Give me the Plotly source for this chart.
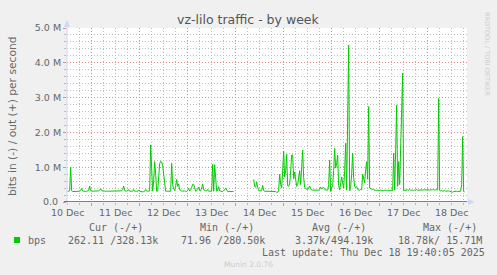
import pandas as pd
import plotly.graph_objects as go

# ---------------- data ----------------
# outbound traffic (+), Mbit/s, 30-minute samples starting 2025-12-10 12:00
out_mbps = [
    0.30, 0.30, 0.32, 1.00, 0.32, 0.30, 0.30, 0.31, 0.30, 0.30,
    0.30, 0.31, 0.31, 0.33, 0.39, 0.32, 0.31, 0.31, 0.30, 0.31,
    0.31, 0.33, 0.46, 0.33, 0.31, 0.31, 0.31, 0.30, 0.31, 0.31,
    0.31, 0.32, 0.34, 0.38, 0.33, 0.31, 0.31, 0.31, 0.30, 0.31,
    0.31, 0.31, 0.30, 0.31, 0.31, 0.30, 0.31, 0.31, 0.30, 0.31,
    0.31, 0.32, 0.31, 0.31, 0.32, 0.36, 0.46, 0.33, 0.31, 0.31,
    0.32, 0.36, 0.31, 0.30, 0.31, 0.31, 0.36, 0.31, 0.30, 0.31,
    0.31, 0.35, 0.31, 0.30, 0.28, 0.29, 0.30, 0.31, 0.36, 0.31,
    0.31, 0.31, 0.32, 1.64, 0.60, 0.31, 0.60, 1.16, 0.80, 0.31,
    0.31, 0.90, 1.10, 1.17, 1.15, 1.05, 0.80, 0.50, 0.31, 0.31,
    0.31, 0.32, 0.31, 0.31, 1.11, 0.50, 0.38, 0.33, 0.45, 0.65,
    0.45, 0.52, 0.35, 0.32, 0.32, 0.31, 0.32, 0.32, 0.31, 0.30,
    0.33, 0.39, 0.32, 0.35, 0.42, 0.51, 0.51, 0.38, 0.31, 0.33,
    0.38, 0.43, 0.33, 0.32, 0.40, 0.52, 0.35, 0.32, 0.32, 0.32,
    0.36, 0.31, 0.31, 0.31, 0.31, 1.08, 0.31, 1.07, 0.50, 0.31,
    0.33, 0.44, 0.32, 0.32, 0.32, 0.30, 0.33, 0.35, 0.40, 0.33,
    0.30, 0.30, 0.30, 0.30, 0.30, 0.30, 0.30, None, None, None,
    None, None, None, None, None, None, None, None, None, None,
    None, None, None, None, None, None, 0.65, 0.45, 0.42, 0.57,
    0.42, 0.33, 0.32, 0.32, 0.32, 0.48, 0.33, 0.31, 0.31, 0.30,
    0.31, 0.30, 0.29, 0.30, 0.30, 0.29, 0.29, 0.30, 0.30, 0.28,
    0.28, 0.32, 0.80, 0.50, 0.40, 0.90, 1.46, 0.72, 0.90, 1.37,
    0.47, 0.45, 0.52, 0.90, 1.35, 1.35, 0.67, 0.86, 0.60, 0.45,
    0.50, 0.72, 0.90, 0.50, 0.90, 1.49, 0.70, 0.42, 0.38, 0.37,
    0.36, 0.40, 0.46, 0.38, 0.34, 0.34, 0.34, 0.35, 0.34, 0.34,
    0.33, 0.34, 0.36, 0.43, 0.38, 0.40, 0.42, 0.36, 0.34, 0.34,
    0.34, 0.50, 1.20, 0.30, 0.40, 0.47, 0.90, 1.54, 0.98, 1.10,
    1.35, 0.47, 0.34, 0.50, 0.72, 0.55, 0.40, 0.90, 1.69, 0.34,
    2.00, 4.51, 0.32, 0.45, 0.80, 1.40, 0.70, 0.45, 0.42, 0.45,
    0.36, 0.35, 0.34, 0.36, 0.35, 0.80, 0.60, 0.55, 0.92, 1.16,
    0.65, 2.74, 0.40, 0.38, 0.37, 0.36, 0.35, 0.34, 0.34, 0.33,
    0.34, 0.33, 0.33, 0.34, 0.33, 0.32, 0.33, 0.34, 0.33, 0.33,
    0.34, 0.33, 0.32, 0.33, 0.34, 0.33, 1.40, 0.34, 1.50, 2.79,
    0.45, 1.16, 0.50, 1.78, 3.30, 3.70, 0.33, 0.34, 0.35, 0.34,
    0.35, 0.34, 0.36, 0.34, 0.35, 0.34, 0.33, 0.35, 0.34, 0.36,
    0.34, 0.34, 0.35, 0.33, 0.34, 0.35, 0.34, 0.33, 0.34, 0.35,
    0.36, 0.34, 0.34, 0.35, 0.34, 0.35, 0.36, 0.34, 0.35, 0.36,
    0.35, 2.98, 0.34, 0.32, 0.33, 0.31, 0.32, 0.33, 0.31, 0.32,
    0.31, 0.32, 0.31, 0.30, 0.31, 0.28, 0.30, 0.31, 0.30, 0.31,
    0.30, 0.31, 0.30, 0.31, 0.50, 1.88, 0.30, 0.29,
]
sample_start = "2025-12-10 12:00"
sample_step = "30min"

range_start = "2025-12-10 11:40"
range_end = "2025-12-18 19:40"

day_label_times = ["2025-12-%02d 12:00" % d for d in range(10, 19)]
day_labels = ["%d Dec" % d for d in range(10, 19)]

y_tick_vals = [0, 1e6, 2e6, 3e6, 4e6, 5e6]
y_tick_text = ["0.0\u00a0", "1.0 M", "2.0 M", "3.0 M", "4.0 M", "5.0 M"]

legend_headers = ["Cur (-/+)", "Min (-/+)", "Avg (-/+)", "Max (-/+)"]
legend_values = ["262.11 /328.13k", "71.96 /280.50k", "3.37k/494.19k", "18.78k/ 15.71M"]
series_name = "bps"
last_update = "Last update: Thu Dec 18 19:40:05 2025"

# ---------------- figure ----------------
W, H = 497, 275
L, R, T, B = 67, 467, 28, 202
FONT = "DejaVu Sans"
MONO = "DejaVu Sans Mono"
FC = "#666666"
AXIS_C = "#CFD6F8"
MAJ_C = "#e08c8c"
MIN_C = "#bdbdbd"
GREEN = "#00cc00"


def X(px):
    return (px - L) / (R - L)


def Y(py):
    return (B - py) / (B - T)


times = pd.date_range(sample_start, periods=len(out_mbps), freq=sample_step)
yvals = [None if v is None else v * 1e6 for v in out_mbps]

fig = go.Figure()
fig.add_trace(go.Scatter(x=times, y=yvals, mode="lines",
                         line=dict(color=GREEN, width=1),
                         connectgaps=False, showlegend=False, hoverinfo="skip"))
fig.add_trace(go.Scatter(x=[], y=[], xaxis="x2", showlegend=False, hoverinfo="skip"))

fig.update_layout(
    width=W, height=H,
    margin=dict(l=L, r=W - R, t=T, b=H - B, pad=0),
    paper_bgcolor="#f0f0f0", plot_bgcolor="#ffffff",
    showlegend=False,
    xaxis=dict(type="date", range=[range_start, range_end],
               tickmode="linear", tick0="2025-12-11 00:00", dtick=86400000,
               showticklabels=False, showgrid=True, gridcolor=MAJ_C, gridwidth=1,
               griddash="1px,2px", ticks="outside", ticklen=3, tickcolor=MAJ_C,
               minor=dict(tick0="2025-12-10 00:00", dtick=21600000, showgrid=True,
                          gridcolor=MIN_C, griddash="1px,2px", ticks="outside",
                          ticklen=2, tickcolor=MIN_C),
               zeroline=False, showline=False, fixedrange=True),
    xaxis2=dict(type="date", range=[range_start, range_end], overlaying="x",
                anchor="y", side="bottom",
                tickmode="array", tickvals=day_label_times, ticktext=day_labels,
                showgrid=False, ticks="", zeroline=False, showline=False,
                ticklabelstandoff=3,
                tickfont=dict(family=FONT, size=9.5, color=FC)),
    yaxis=dict(range=[0, 5e6], tickmode="array", tickvals=y_tick_vals,
               ticktext=y_tick_text, showgrid=True, gridcolor=MAJ_C,
               griddash="1px,2px", ticks="outside", ticklen=3, tickcolor=MAJ_C,
               minor=dict(tick0=0, dtick=2e5, showgrid=True, gridcolor=MIN_C,
                          griddash="1px,2px", ticks="outside", ticklen=2,
                          tickcolor=MIN_C),
               zeroline=False, showline=False,
               tickfont=dict(family=FONT, size=9.5, color=FC)),
)

shapes = []
# y axis line + arrow
shapes.append(dict(type="line", xref="paper", yref="paper", x0=X(67), x1=X(67),
                   y0=Y(205), y1=Y(25), line=dict(color=AXIS_C, width=1), layer="above"))
shapes.append(dict(type="path", xref="paper", yref="paper",
                   path="M %f,%f L %f,%f L %f,%f Z" % (X(64), Y(27), X(70), Y(27), X(67), Y(20)),
                   fillcolor=AXIS_C, line=dict(width=0), layer="above"))
# x axis line beyond plot + arrow
shapes.append(dict(type="line", xref="paper", yref="paper", x0=X(467), x1=X(470),
                   y0=Y(202), y1=Y(202), line=dict(color=AXIS_C, width=1), layer="above"))
shapes.append(dict(type="path", xref="paper", yref="paper",
                   path="M %f,%f L %f,%f L %f,%f Z" % (X(468), Y(199), X(468), Y(205), X(475), Y(202)),
                   fillcolor=AXIS_C, line=dict(width=0), layer="above"))
# zero rule (black)
shapes.append(dict(type="line", xref="paper", yref="y", x0=X(64), x1=X(467),
                   y0=0, y1=0, line=dict(color="#000000", width=1), layer="above"))
# legend colour box
shapes.append(dict(type="rect", xref="paper", yref="paper", x0=X(14), x1=X(20),
                   y0=Y(243), y1=Y(237), fillcolor=GREEN, line=dict(width=0)))
fig.update_layout(shapes=shapes)

ann = []


def text(s, px, py, size=10, family=MONO, color=FC, xanchor="left", angle=0):
    ann.append(dict(text=s, x=X(px), y=Y(py), xref="paper", yref="paper",
                    showarrow=False, xanchor=xanchor, yanchor="middle",
                    textangle=angle, borderpad=0,
                    font=dict(family=family, size=size, color=color)))


text("vz-lilo traffic - by week", 248, 19, size=12.5, family=FONT, color="#555555", xanchor="center")
text("bits in (-) / out (+) per second", 12, 116, size=10.7, family=FONT, xanchor="center", angle=-90)
text("RRDTOOL / TOBI OETIKER", 487, 54, size=6.5, family=FONT, color="#cccccc", xanchor="center", angle=90)

for h, cx in zip(legend_headers, [116, 227, 339, 450]):
    text(h, cx, 227, xanchor="center")
text(series_name, 27, 240)
for v, px in zip(legend_values, [67, 180, 294, 397]):
    text(v, px, 240)
text(last_update, 261, 252)
text("Munin 2.0.76", 248, 264, size=7.5, family=FONT, color="#cccccc", xanchor="center")

fig.update_layout(annotations=ann)
fig.write_html("out.html")
